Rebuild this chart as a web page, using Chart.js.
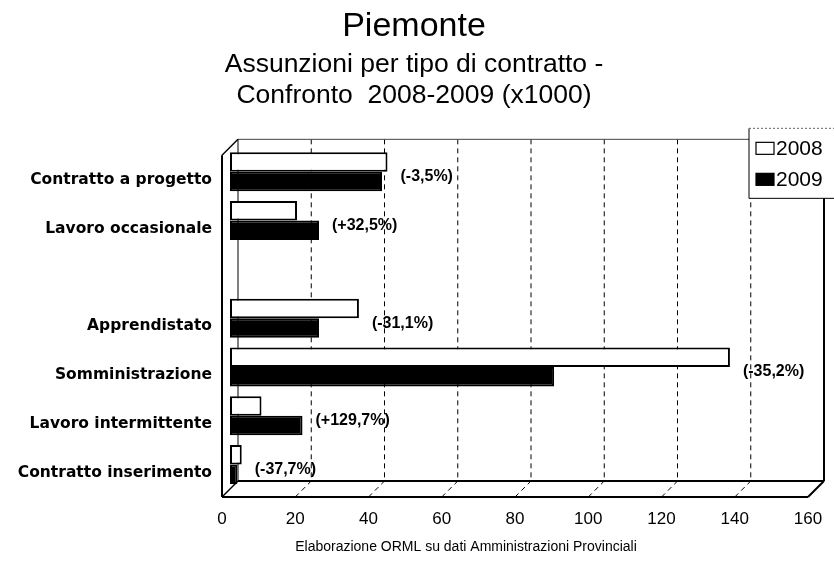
<!DOCTYPE html>
<html><head><meta charset="utf-8">
<script src="https://cdn.jsdelivr.net/npm/chart.js@4.4.1/dist/chart.umd.min.js"></script>
<style>html,body{margin:0;padding:0;background:#fff}#wrap{width:834px;height:565px}</style>
</head><body><div id="wrap"><canvas id="c" width="834" height="565"></canvas></div>
<script>
const categories = ['Contratto a progetto','Lavoro occasionale','','Apprendistato','Somministrazione','Lavoro intermittente','Contratto inserimento'];
const values2008 = [43.0, 18.3, null, 35.2, 136.5, 8.6, 3.2];
const values2009 = [41.5, 24.3, null, 24.3, 88.5, 19.8, 2.0];
const changeLabels = ['(-3,5%)','(+32,5%)','','(-31,1%)','(-35,2%)','(+129,7%)','(-37,7%)'];
const seriesNames = ['2008','2009'];
const xTicks = [0,20,40,60,80,100,120,140,160];
const titleText = 'Piemonte';
const subtitleLines = ['Assunzioni per tipo di contratto -','Confronto  2008-2009 (x1000)'];
const sourceText = 'Elaborazione ORML su dati Amministrazioni Provinciali';

const SANS = "'Liberation Sans', Arial, sans-serif";
const D = 8; // half depth of the 3D frame

function seg(ctx, x1, y1, x2, y2, w, c) {
  ctx.lineWidth = w; ctx.strokeStyle = c || '#000';
  ctx.beginPath(); ctx.moveTo(x1, y1); ctx.lineTo(x2, y2); ctx.stroke();
}

const frame3d = {
  id: 'frame3d',
  beforeDatasetsDraw(chart) {
    const {ctx, chartArea: a} = chart;
    const x = chart.scales.x;
    const bL = a.left + D, bT = a.top - D, bR = a.right + D, bB = a.bottom - D;
    const fL = a.left - D, fT = a.top + D, fR = a.right - D, fB = a.bottom + D;
    ctx.save();
    ctx.setLineDash([5, 4]);
    xTicks.forEach((v, i) => {
      if (i === 0 || i === xTicks.length - 1) return;
      const px = x.getPixelForValue(v);
      seg(ctx, px + D, bT, px + D, bB, 1, '#000');
      seg(ctx, px - D, fB, px + D, bB, 1, '#000');
    });
    ctx.setLineDash([]);
    seg(ctx, bL, bT, bR, bT, 1, '#444');
    seg(ctx, bL, bT, bL, bB, 1, '#000');
    seg(ctx, bR, bT, bR, bB, 2, '#000');
    seg(ctx, bL, bB, bR, bB, 2, '#000');
    seg(ctx, fL, fT, fL, fB, 2, '#000');
    seg(ctx, fL, fT, bL, bT, 1.5, '#000');
    seg(ctx, fL, fB, fR, fB, 2, '#000');
    seg(ctx, fL, fB, bL, bB, 1.5, '#000');
    seg(ctx, fR, fB, bR, bB, 2, '#000');
    ctx.restore();
  },
  afterDatasetsDraw(chart) {
    const {ctx} = chart;
    const mA = chart.getDatasetMeta(0), mB = chart.getDatasetMeta(1);
    ctx.save();
    ctx.fillStyle = '#000';
    ctx.font = 'bold 16px ' + SANS;
    ctx.textAlign = 'left';
    ctx.textBaseline = 'middle';
    changeLabels.forEach((t, i) => {
      if (!t) return;
      const xEnd = Math.max(mA.data[i].x, mB.data[i].x);
      const yc = chart.scales.y.getPixelForValue(i);
      ctx.fillText(t, xEnd + 13, yc + 5);
    });
    ctx.restore();
  },
  afterDraw(chart) {
    const {ctx, chartArea: a} = chart;
    ctx.save();
    // legend box
    const lx = a.right - 67, ly = a.top - 19, lw = 100, lh = 70;
    ctx.fillStyle = '#fff';
    ctx.fillRect(lx, ly, lw, lh);
    seg(ctx, lx, ly, lx, ly + lh, 1, '#000');
    seg(ctx, lx, ly + lh, lx + lw, ly + lh, 1, '#000');
    ctx.setLineDash([2, 2]);
    seg(ctx, lx, ly, lx + lw, ly, 1, '#666');
    ctx.setLineDash([]);
    ctx.font = '21px ' + SANS;
    ctx.textBaseline = 'middle';
    ctx.textAlign = 'left';
    chart.data.datasets.forEach((ds, i) => {
      const cy = ly + 20 + i * 31;
      ctx.fillStyle = ds.backgroundColor;
      ctx.fillRect(lx + 7, cy - 6, 18, 12);
      ctx.lineWidth = 1.2; ctx.strokeStyle = '#000';
      ctx.strokeRect(lx + 7, cy - 6, 18, 12);
      ctx.fillStyle = '#000';
      ctx.fillText(ds.label, lx + 27, cy + 1);
    });
    // source note
    ctx.font = '14px ' + SANS;
    ctx.textAlign = 'center';
    ctx.fillStyle = '#000';
    ctx.fillText(sourceText, 466, 547);
    ctx.restore();
  }
};

new Chart(document.getElementById('c'), {
  type: 'bar',
  data: {
    labels: categories,
    datasets: [
      {label: seriesNames[0], data: values2008, backgroundColor: '#ffffff', borderColor: '#000', borderWidth: 2, borderSkipped: false},
      {label: seriesNames[1], data: values2009, backgroundColor: '#000000', borderColor: '#000', borderWidth: 2, borderSkipped: false}
    ]
  },
  options: {
    indexAxis: 'y',
    responsive: false,
    animation: false,
    devicePixelRatio: 1,
    layout: {padding: {left: 12, right: 18, top: 0, bottom: 0}},
    datasets: {bar: {categoryPercentage: 0.8, barPercentage: 1.0}},
    plugins: {
      legend: {display: false},
      tooltip: {enabled: false},
      title: {display: true, text: titleText, color: '#000',
        font: {family: SANS, size: 34, weight: 'normal', lineHeight: 1.2},
        padding: {top: 6, bottom: 0}},
      subtitle: {display: true, text: subtitleLines, color: '#000',
        font: {family: SANS, size: 26.5, weight: 'normal', lineHeight: 1.18},
        padding: {top: 2, bottom: 36}}
    },
    scales: {
      x: {
        type: 'linear', min: xTicks[0], max: xTicks[xTicks.length - 1],
        grid: {display: false, drawTicks: false}, border: {display: false},
        ticks: {stepSize: xTicks[1] - xTicks[0], labelOffset: -D, padding: 20, color: '#000',
          font: {family: SANS, size: 17}},
        afterFit(s) { s.height = 76; s.paddingLeft = 0; s.paddingRight = 0; }
      },
      y: {
        type: 'category',
        grid: {display: false, drawTicks: false}, border: {display: false},
        ticks: {labelOffset: D, padding: 18, color: '#000', autoSkip: false,
          font: {family: "'DejaVu Sans', sans-serif", size: 15.5, weight: 'bold'}},
        afterFit(s) { s.width = 218; s.paddingTop = 0; s.paddingBottom = 0; }
      }
    }
  },
  plugins: [frame3d]
});
</script>
</body></html>
